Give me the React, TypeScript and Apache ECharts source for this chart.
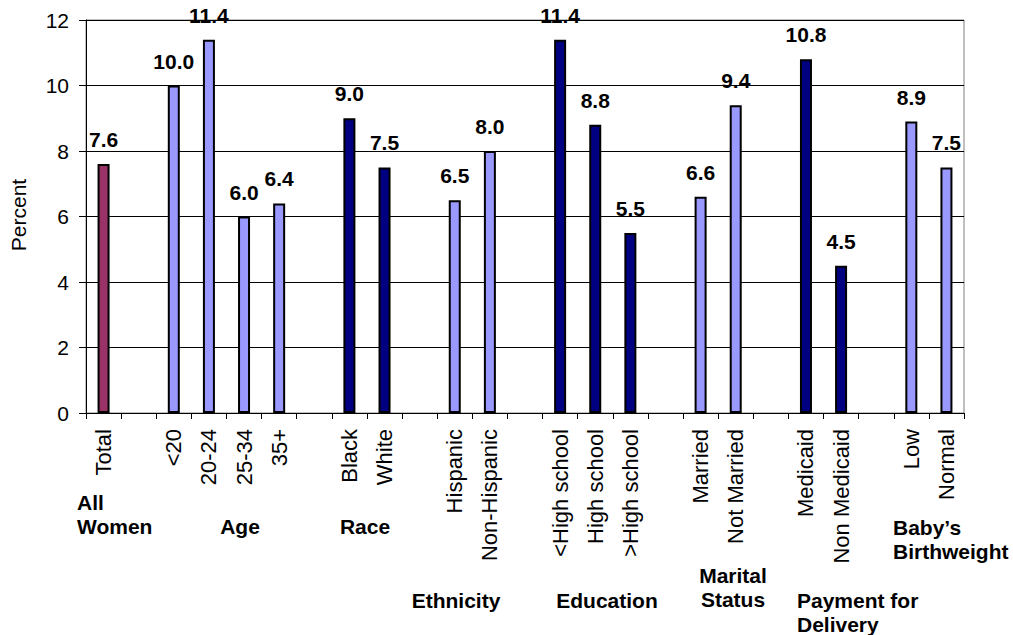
import React, { useEffect, useRef } from "react";
import * as echarts from "echarts";

const categories = [
  "Total", "", "<20", "20-24", "25-34", "35+", "", "Black", "White", "",
  "Hispanic", "Non-Hispanic", "", "<High school", "High school", ">High school", "",
  "Married", "Not Married", "", "Medicaid", "Non Medicaid", "", "Low", "Normal",
];
const values: (number | null)[] = [
  7.6, null, 10.0, 11.4, 6.0, 6.4, null, 9.0, 7.5, null,
  6.5, 8.0, null, 11.4, 8.8, 5.5, null,
  6.6, 9.4, null, 10.8, 4.5, null, 8.9, 7.5,
];
const colorKeys: (string | null)[] = [
  "total", null, "light", "light", "light", "light", null, "dark", "dark", null,
  "light", "light", null, "dark", "dark", "dark", null,
  "light", "light", null, "dark", "dark", null, "light", "light",
];
const palette: Record<string, string> = { total: "#993366", light: "#9999FF", dark: "#000080" };
const yTicks = { min: 0, max: 12, interval: 2 };
const groupLabels = [
  { lines: ["All", "Women"], x: 77, y: 502, align: "left" },
  { lines: ["Age"], x: 240, y: 526, align: "center" },
  { lines: ["Race"], x: 365, y: 526, align: "center" },
  { lines: ["Ethnicity"], x: 456, y: 600, align: "center" },
  { lines: ["Education"], x: 607, y: 600, align: "center" },
  { lines: ["Marital", "Status"], x: 733, y: 575, align: "center" },
  { lines: ["Payment for", "Delivery"], x: 797, y: 600, align: "left" },
  { lines: ["Baby\u2019s", "Birthweight"], x: 893, y: 527, align: "left" },
];

const FONT = 'Arial, "Liberation Sans", sans-serif';

export default function App() {
  const ref = useRef<HTMLDivElement>(null);
  useEffect(() => {
    if (!ref.current) return;
    const chart = echarts.init(ref.current, undefined, { renderer: "svg" });
    const graphics: any[] = [];
    groupLabels.forEach((g) => {
      g.lines.forEach((line, i) => {
        graphics.push({
          type: "text",
          x: g.x,
          y: g.y + i * 24,
          style: {
            text: line,
            font: `bold 21px ${FONT}`,
            fill: "#000",
            textAlign: g.align,
            textVerticalAlign: "middle",
          },
        });
      });
    });
    graphics.push({
      type: "text",
      x: 18,
      y: 215,
      rotation: Math.PI / 2,
      style: {
        text: "Percent",
        font: `21px ${FONT}`,
        fill: "#000",
        textAlign: "center",
        textVerticalAlign: "middle",
      },
    });
    chart.setOption({
      animation: false,
      backgroundColor: "#fff",
      textStyle: { fontFamily: FONT },
      grid: {
        left: 86,
        right: 49,
        top: 20,
        bottom: 222,
        show: true,
        borderColor: "#808080",
        borderWidth: 1,
      },
      xAxis: {
        type: "category",
        data: categories,
        axisLine: { lineStyle: { color: "#000", width: 1 } },
        axisTick: { show: true, length: 6, interval: 0, lineStyle: { color: "#000" } },
        axisLabel: {
          interval: 0,
          rotate: 90,
          margin: 16,
          fontSize: 22,
          color: "#000",
          fontFamily: FONT,
        },
        splitLine: { show: false },
      },
      yAxis: {
        type: "value",
        min: yTicks.min,
        max: yTicks.max,
        interval: yTicks.interval,
        axisLine: { show: true, lineStyle: { color: "#000", width: 1 } },
        axisTick: { show: true, length: 7, lineStyle: { color: "#000" } },
        axisLabel: { margin: 17, fontSize: 21, color: "#000", fontFamily: FONT },
        splitLine: { show: true, lineStyle: { color: "#000", width: 1 } },
      },
      series: [
        {
          type: "bar",
          barWidth: 12,
          data: values.map((v, i) => ({
            value: v,
            itemStyle: {
              color: colorKeys[i] ? palette[colorKeys[i] as string] : "transparent",
              borderColor: "#000",
              borderWidth: 2,
            },
          })),
          label: {
            show: true,
            position: "top",
            distance: 14,
            fontSize: 21,
            fontWeight: "bold",
            color: "#000",
            fontFamily: FONT,
            formatter: (p: any) => (p.value == null ? "" : Number(p.value).toFixed(1)),
          },
        },
      ],
      graphic: graphics,
    });
    return () => chart.dispose();
  }, []);
  return (
    <div
      ref={ref}
      style={{ position: "fixed", left: 0, top: 0, width: 1013, height: 635 }}
    />
  );
}
